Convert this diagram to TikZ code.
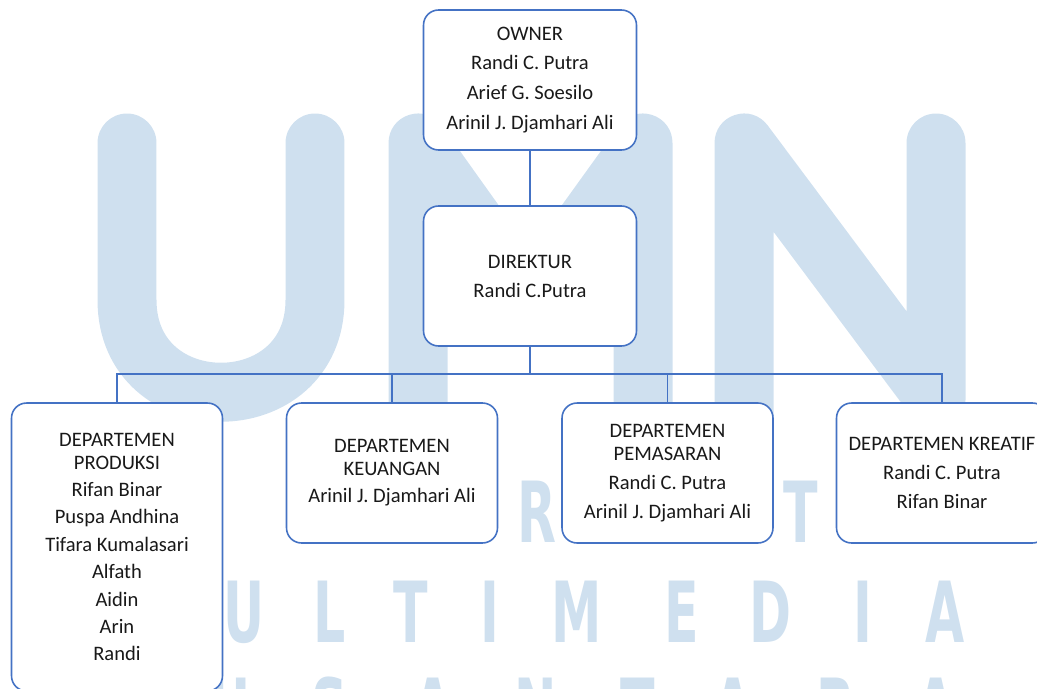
\documentclass[tikz,border=0pt]{standalone}
\usepackage{fontspec}
\setmainfont{Carlito}
\newfontfamily\wmfont[FakeStretch=0.6]{DejaVu Sans}
\definecolor{boxline}{HTML}{4472C4}
\definecolor{wmblue}{HTML}{CFE0EF}

\begin{document}
\begin{tikzpicture}[x=0.02cm, y=-0.02cm,
          orgbox/.style ={draw=boxline, line width=0.9pt, fill=white, rounded corners=0.3cm,
                          align=center, text=black!90, font=\fontsize{11.7}{13}\selectfont,
                          minimum width=4.22cm, minimum height=2.8cm, inner sep=0pt},
          link/.style ={draw=boxline, line width=1pt},
          bigletter/.style ={wmblue, line width=1.18cm, line cap=round, line join=round},
          wmletter/.style ={text=wmblue, font=\wmfont\bfseries\fontsize{48}{48}\selectfont,
                            anchor=base, inner sep=0pt}
          ]
\clip (0,0) rectangle (1037,689);

% watermark
\draw[bigletter] (127,143) -- (127,300) .. controls (127,423) and (315,423) .. (315,300) -- (315,143);
\draw[bigletter] (418,430) -- (418,143) -- (530,300) -- (643,143) -- (643,430);
\draw[bigletter] (744,430) -- (744,143) -- (936,400) -- (936,143);
\foreach \l/\x in {N/197, R/537, T/801, A/885}{
\node[wmletter] at (\x,542) {\l};
}
\foreach \l/\x in {U/244, L/330, T/411, I/490, M/577, E/682, D/770, I/863, A/945}{
\node[wmletter] at (\x,642) {\l};
}
\foreach \l/\x in {U/230, S/330, A/433, N/536, T/638, A/733, R/836, A/936}{
\node[wmletter] at (\x,739) {\l};
}

% boxes
\node[orgbox, minimum width=4.26cm] (owner) at (530,80)
  {OWNER\\[4pt] Randi C. Putra\\[4pt] Arief G. Soesilo\\[4pt] Arinil J. Djamhari Ali};
\node[orgbox, minimum width=4.26cm] (dir) at (530,276)
  {DIREKTUR\\[3.5pt] Randi C.Putra};
\node[orgbox, minimum height=5.76cm] (prod) at (117,547)
  {DEPARTEMEN\\PRODUKSI\\[2.6pt] Rifan Binar\\[2.6pt] Puspa Andhina\\[2.6pt] Tifara Kumalasari\\[2.6pt]
   Alfath\\[2.6pt] Aidin\\[2.6pt] Arin\\[2.6pt] Randi};
\node[orgbox] (keu) at (392,473)
  {DEPARTEMEN\\KEUANGAN\\[2.6pt] Arinil J. Djamhari Ali};
\node[orgbox] (pem) at (667.5,473)
  {DEPARTEMEN\\PEMASARAN\\[3.5pt] Randi C. Putra\\[3.5pt] Arinil J. Djamhari Ali};
\node[orgbox] (kre) at (942,473)
  {DEPARTEMEN KREATIF\\[3.5pt] Randi C. Putra\\[3.5pt] Rifan Binar};

% connectors
\coordinate (bus) at (530,374);
\draw[link] (owner) -- (dir);
\foreach \d in {prod, keu, pem, kre}{
\draw[link] (dir.south) -- (bus) -| (\d.north);
}
\end{tikzpicture}
\end{document}
